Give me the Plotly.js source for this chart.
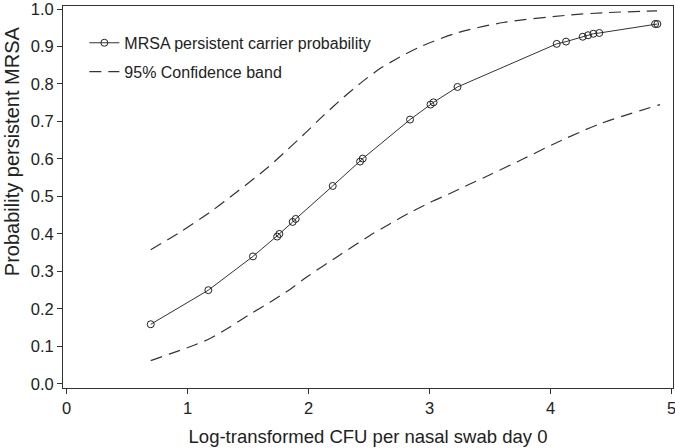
<!DOCTYPE html>
<html>
<head>
<meta charset="utf-8">
<script src="https://cdn.plot.ly/plotly-3.0.1.min.js"></script>
<style>
  html, body { margin: 0; padding: 0; background: #fff; }
  #chart { width: 675px; height: 448px; }
</style>
</head>
<body>
<div id="chart"></div>
<script>
// fitted probability at each observed log CFU value
const cfu = [0.696, 1.172, 1.541, 1.741, 1.759, 1.869, 1.894, 2.200, 2.426, 2.448, 2.839,
             3.008, 3.033, 3.231, 4.051, 4.128, 4.266, 4.310, 4.354, 4.403, 4.864, 4.883];
const prob = [0.159, 0.250, 0.340, 0.393, 0.400, 0.432, 0.440, 0.528, 0.593, 0.601, 0.705,
              0.745, 0.751, 0.792, 0.907, 0.913, 0.926, 0.930, 0.934, 0.936, 0.960, 0.960];

// 95% band, upper and lower curves
const upperX = [0.696, 0.940, 1.186, 1.420, 1.655, 1.810, 1.957, 2.120, 2.288, 2.440, 2.591,
                2.756, 2.921, 3.225, 3.610, 4.161, 4.434, 4.880];
const upperY = [0.358, 0.405, 0.458, 0.515, 0.575, 0.620, 0.664, 0.715, 0.764, 0.805, 0.841,
                0.872, 0.899, 0.936, 0.964, 0.984, 0.990, 0.995];

const lowerX = [0.696, 0.855, 1.021, 1.186, 1.351, 1.517, 1.682, 1.847, 1.985, 2.250, 2.508,
                2.674, 2.839, 3.004, 3.169, 3.334, 3.500, 3.780, 4.040, 4.410, 4.905];
const lowerY = [0.062, 0.080, 0.099, 0.121, 0.152, 0.186, 0.218, 0.252, 0.285, 0.342, 0.396,
                0.427, 0.457, 0.484, 0.508, 0.533, 0.558, 0.601, 0.642, 0.694, 0.745];

const xTicks = [0, 1, 2, 3, 4, 5];
const yTicks = [0, 0.1, 0.2, 0.3, 0.4, 0.5, 0.6, 0.7, 0.8, 0.9, 1.0];

const dashStyle = {color: '#333', width: 1.2, dash: '12px,7px', shape: 'spline', smoothing: 0.8};

const traces = [
  {
    x: cfu, y: prob, name: 'MRSA persistent carrier probability',
    type: 'scatter', mode: 'lines+markers', legendgroup: 'fit',
    line: {color: '#333', width: 1},
    marker: {symbol: 'circle-open', size: 7, color: '#222', line: {width: 1}}
  },
  {
    x: upperX, y: upperY, name: '95% Confidence band', legendgroup: 'band',
    type: 'scatter', mode: 'lines', line: dashStyle
  },
  {
    x: lowerX, y: lowerY, name: '95% Confidence band', legendgroup: 'band',
    type: 'scatter', mode: 'lines', line: dashStyle, showlegend: false
  }
];

const axisCommon = {
  showline: true, mirror: true, linecolor: '#333', linewidth: 1,
  ticks: 'outside', ticklen: 5, tickcolor: '#333',
  showgrid: false, zeroline: false, ticklabeloverflow: 'allow',
  tickfont: {size: 16.5, color: '#222'}
};

const layout = {
  width: 675, height: 448,
  margin: {l: 63, r: 2, t: 6, b: 60},
  paper_bgcolor: '#fff', plot_bgcolor: '#fff',
  font: {family: 'Liberation Sans, Arial, sans-serif', color: '#222'},
  showlegend: true,
  legend: {
    x: 0.035, y: 0.948, xanchor: 'left', yanchor: 'top',
    bgcolor: 'rgba(0,0,0,0)', font: {size: 16, color: '#222'},
    traceorder: 'grouped', tracegroupgap: 5
  },
  xaxis: Object.assign({}, axisCommon, {
    range: [-0.029, 5.012], tickvals: xTicks, ticktext: xTicks.map(String),
    title: {text: 'Log-transformed CFU per nasal swab day 0', font: {size: 18.5}, standoff: 14}
  }),
  yaxis: Object.assign({}, axisCommon, {
    range: [-0.011, 1.008], tickvals: yTicks, ticktext: yTicks.map(v => v.toFixed(1))
  }),
  annotations: [{
    text: 'Probability persistent MRSA', textangle: -90,
    xref: 'paper', yref: 'paper', x: -0.0836, y: 0.62,
    xanchor: 'center', yanchor: 'middle', showarrow: false,
    font: {size: 20, color: '#222'}
  }]
};

Plotly.newPlot('chart', traces, layout, {displayModeBar: false, staticPlot: true});
</script>
</body>
</html>
